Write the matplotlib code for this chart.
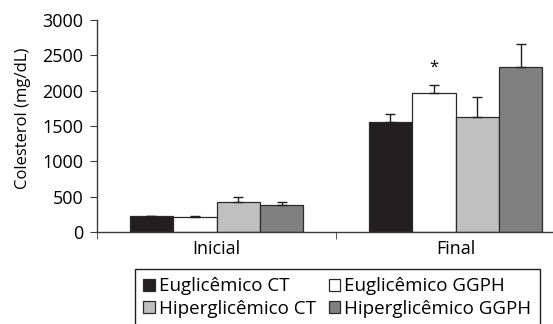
import matplotlib.pyplot as plt
import numpy as np

plt.rcParams['font.family'] = ['Open Sans', 'DejaVu Sans']

# Cholesterol means and upper SEM per group, at start and end of treatment
periods = ["Inicial", "Final"]
groups = ["Euglicêmico CT", "Euglicêmico GGPH",
          "Hiperglicêmico CT", "Hiperglicêmico GGPH"]
means = {
    "Euglicêmico CT": [220, 1555],
    "Euglicêmico GGPH": [216, 1968],
    "Hiperglicêmico CT": [424, 1630],
    "Hiperglicêmico GGPH": [376, 2331],
}
errors = {
    "Euglicêmico CT": [8, 120],
    "Euglicêmico GGPH": [12, 108],
    "Hiperglicêmico CT": [65, 282],
    "Hiperglicêmico GGPH": [48, 333],
}
colors = ["#231f20", "#ffffff", "#c0c0c0", "#808080"]

W, H = 553, 324
fig = plt.figure(figsize=(W / 100, H / 100), dpi=100)
ax = fig.add_axes([97 / W, 92 / H, 478 / W, 212 / H])

x = np.arange(len(periods))
bw = 0.182
handles = []
for i, g in enumerate(groups):
    pos = x + (i - 1.5) * bw
    b = ax.bar(pos, means[g], bw, color=colors[i], edgecolor="#2a2a2a",
               linewidth=0.9, label=g, zorder=2)
    handles.append(b)
    ax.errorbar(pos, means[g], yerr=[np.zeros(len(x)), errors[g]],
                fmt="none", ecolor="#231f20", elinewidth=1, capsize=3.6,
                capthick=1, zorder=3)

# significance mark over the GGPH bar at the end
ax.text(1 - 0.5 * bw, 2215, "*", ha="center", va="bottom", fontsize=12)

ax.set_xlim(-0.5, 1.5)
ax.set_ylim(0, 3000)
ax.set_yticks(range(0, 3001, 500))
ax.set_xticks(x)
ax.set_xticklabels(periods)
ax.set_xticks([-0.5, 0.5, 1.5], minor=True)
ax.tick_params(axis="x", which="major", length=0, pad=6, labelsize=13)
ax.tick_params(axis="x", which="minor", length=5, color="#3a3a3a")
ax.tick_params(axis="y", length=5, color="#3a3a3a", labelsize=13, pad=5)
for s in ["top", "right"]:
    ax.spines[s].set_visible(False)
for s in ["left", "bottom"]:
    ax.spines[s].set_color("#3a3a3a")
    ax.spines[s].set_linewidth(1)
fig.text(23 / W, (H - 118) / H, "Colesterol (mg/dL)", rotation=90,
         ha="center", va="center", fontsize=12)

# legend filled row by row: Eu CT, Eu GGPH / Hiper CT, Hiper GGPH
order = [0, 2, 1, 3]
leg = fig.legend([handles[k] for k in order], [groups[k] for k in order],
                 loc="upper left", bbox_to_anchor=(135 / W, 55 / H),
                 borderaxespad=0, ncol=2, fancybox=False,
                 edgecolor="#231f20", framealpha=1,
                 handlelength=0.6, handleheight=0.6, handletextpad=0.25,
                 columnspacing=0.65, labelspacing=0.22, borderpad=0.45,
                 fontsize=13.5)
leg.get_frame().set_linewidth(1)

fig.savefig("out.png", dpi=100)
